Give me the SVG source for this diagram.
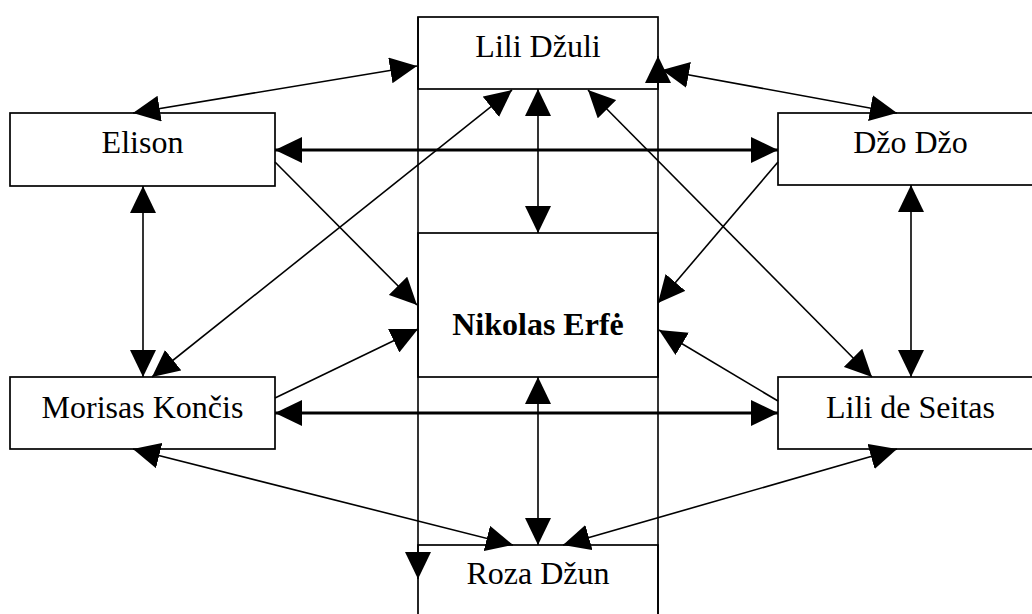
<svg xmlns="http://www.w3.org/2000/svg" width="1032" height="614" viewBox="0 0 1032 614">
  <style>
    .box { fill: #ffffff; stroke: #000000; stroke-width: 1.7; }
    .lbl { font-family: "Liberation Serif", "Times New Roman", serif; font-size: 32px; fill: #000000; text-anchor: middle; }
    .bold { font-weight: bold; }
    .thin { fill: none; stroke: #000000; stroke-width: 1.6; }
    .thick { fill: none; stroke: #000000; stroke-width: 3; }
    .one { marker-end: url(#head); }
    .two { marker-start: url(#head); marker-end: url(#head); }
  </style>
  <defs>
    <marker id="head" viewBox="0 0 27 26" refX="27" refY="13" markerWidth="27" markerHeight="26" markerUnits="userSpaceOnUse" orient="auto-start-reverse">
      <path d="M0,0 L27,13 L0,26 z" fill="#000000"/>
    </marker>
  </defs>

  <rect width="1032" height="614" fill="#ffffff"/>

  <!-- people -->
  <g id="lili-dzuli">
    <rect class="box" x="418" y="17" width="240" height="72"/>
    <text class="lbl" x="538" y="57">Lili Džuli</text>
  </g>
  <g id="elison">
    <rect class="box" x="10" y="113" width="265" height="73"/>
    <text class="lbl" x="142.5" y="153">Elison</text>
  </g>
  <g id="dzo-dzo">
    <rect class="box" x="778" y="113" width="265" height="72"/>
    <text class="lbl" x="910.5" y="153">Džo Džo</text>
  </g>
  <g id="nikolas-erfe">
    <rect class="box" x="418" y="233" width="240" height="144"/>
    <text class="lbl bold" x="538" y="335">Nikolas Erfė</text>
  </g>
  <g id="morisas-koncis">
    <rect class="box" x="10" y="377" width="265" height="72"/>
    <text class="lbl" x="142.5" y="418">Morisas Končis</text>
  </g>
  <g id="lili-de-seitas">
    <rect class="box" x="778" y="377" width="265" height="72"/>
    <text class="lbl" x="910.5" y="418">Lili de Seitas</text>
  </g>
  <g id="roza-dzun">
    <rect class="box" x="418" y="545" width="240" height="100"/>
    <text class="lbl" x="538" y="584">Roza Džun</text>
  </g>

  <!-- relations -->
  <g id="connectors">
    <!-- long column sides -->
    <path class="thin one" d="M418,17 L418,579"/>
    <path class="thin one" d="M658,640 L658,56"/>

    <!-- thick horizontals -->
    <path class="thick two" d="M275,150 L778,150"/>
    <path class="thick two" d="M275,413 L778,413"/>

    <!-- verticals -->
    <path class="thin two" d="M143,186 L143,377"/>
    <path class="thin two" d="M911,185 L911,377"/>
    <path class="thin two" d="M538,89 L538,233"/>
    <path class="thin two" d="M538,377 L538,545"/>

    <!-- top pair -->
    <path class="thin two" d="M133,113 L417,66"/>
    <path class="thin two" d="M662,70 L897,113"/>

    <!-- diagonals through the centre -->
    <path class="thin two" d="M152,377 L512,90"/>
    <path class="thin two" d="M588,90 L872,377"/>

    <!-- into Nikolas Erfė -->
    <path class="thin one" d="M275,162 L417,305"/>
    <path class="thin one" d="M275,398 L418,329"/>
    <path class="thin one" d="M778,162 L658,303"/>
    <path class="thin one" d="M778,401 L659,330"/>

    <!-- bottom pair -->
    <path class="thin two" d="M133,449 L513,545"/>
    <path class="thin two" d="M897,449 L563,545"/>
  </g>
</svg>
